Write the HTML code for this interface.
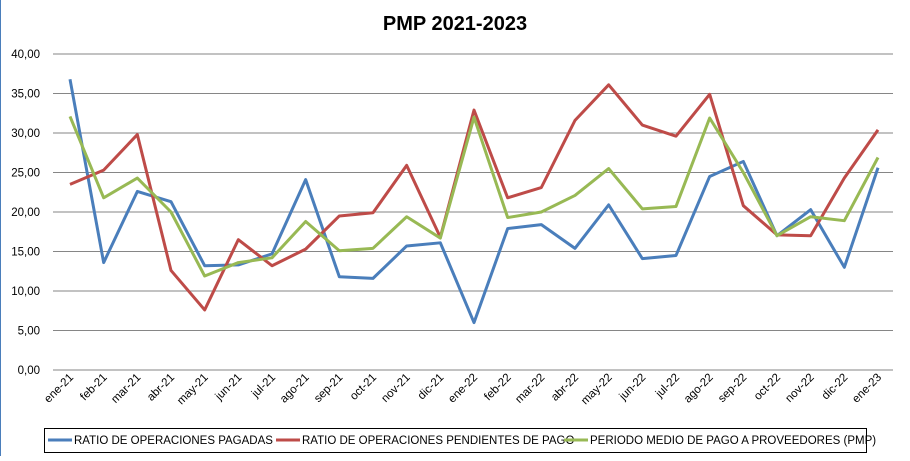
<!DOCTYPE html>
<html><head><meta charset="utf-8"><style>
body{margin:0;background:#fff;font-family:"Liberation Sans",sans-serif}
svg text{font-family:"Liberation Sans",sans-serif}
</style></head><body>
<svg width="910" height="456" viewBox="0 0 910 456">
<rect x="0" y="0" width="910" height="456" fill="#fff"/>
<line x1="0.5" y1="0" x2="0.5" y2="456" stroke="#4a7ebb" stroke-width="1"/>
<text x="455" y="30" text-anchor="middle" font-size="20" font-weight="bold">PMP 2021-2023</text>
<g id="grid"></g><g id="series"></g><g id="xlabels"></g>
<g>
<rect x="44.5" y="428.5" width="822" height="24" fill="#fff" stroke="#000"/>
<line x1="48" y1="440" x2="72" y2="440" stroke="#4a7ebb" stroke-width="3"/>
<text x="74" y="444" font-size="11.5">RATIO DE OPERACIONES PAGADAS</text>
<line x1="276" y1="440" x2="300" y2="440" stroke="#be4b48" stroke-width="3"/>
<text x="302" y="444" font-size="11.5">RATIO DE OPERACIONES PENDIENTES DE PAGO</text>
<line x1="564" y1="440" x2="588" y2="440" stroke="#98b954" stroke-width="3"/>
<text x="590" y="444" font-size="11.5">PERIODO MEDIO DE PAGO A PROVEEDORES (PMP)</text>
</g>
</svg>
<script>
const categories=["ene-21","feb-21","mar-21","abr-21","may-21","jun-21","jul-21","ago-21","sep-21","oct-21","nov-21","dic-21","ene-22","feb-22","mar-22","abr-22","may-22","jun-22","jul-22","ago-22","sep-22","oct-22","nov-22","dic-22","ene-23"];
const pagadas=[36.8,13.6,22.6,21.3,13.2,13.3,14.7,24.1,11.8,11.6,15.7,16.1,6.0,17.9,18.4,15.4,20.9,14.1,14.5,24.5,26.4,17.0,20.3,13.0,25.6];
const pendientes=[23.5,25.3,29.8,12.6,7.6,16.5,13.2,15.3,19.5,19.9,25.9,16.8,32.9,21.8,23.1,31.6,36.1,31.0,29.6,34.9,20.8,17.1,17.0,24.3,30.4];
const pmp=[32.1,21.8,24.3,20.0,11.9,13.6,14.2,18.8,15.1,15.4,19.4,16.7,32.0,19.3,20.0,22.1,25.5,20.4,20.7,31.9,25.0,17.0,19.4,18.9,26.9];
const yTicks=[0,5,10,15,20,25,30,35,40];
const NS="http://www.w3.org/2000/svg";
const x0=70,x1=878,yb=370,yt=54,ymax=40;
const xs=i=>x0+i*(x1-x0)/(categories.length-1);
const ys=v=>yb-v*(yb-yt)/ymax;
const grid=document.getElementById('grid');
yTicks.forEach(t=>{
  const l=document.createElementNS(NS,'line');
  
  
  l.setAttribute('x1',53);l.setAttribute('x2',893);
  l.setAttribute('y1',ys(t));l.setAttribute('y2',ys(t));
  l.setAttribute('stroke','#868686');l.setAttribute('stroke-width','1');
  grid.appendChild(l);
  const tx=document.createElementNS(NS,'text');
  
  
  tx.setAttribute('x',40);tx.setAttribute('y',ys(t)+4);
  tx.setAttribute('text-anchor','end');tx.setAttribute('font-size','11.5');
  tx.textContent=t.toFixed(2).replace('.',',');
  grid.appendChild(tx);
});
const xl=document.getElementById('xlabels');
categories.forEach((c,i)=>{
  const tx=document.createElementNS(NS,'text');
  
  
  const x=xs(i)+4,y=378;
  tx.setAttribute('x',x);tx.setAttribute('y',y);
  tx.setAttribute('text-anchor','end');tx.setAttribute('font-size','11.5');
  tx.setAttribute('transform','rotate(-45 '+x+' '+y+')');
  tx.textContent=c;
  xl.appendChild(tx);
});
const sg=document.getElementById('series');
[[pagadas,'#4a7ebb','line-pagadas'],[pendientes,'#be4b48','line-pendientes'],[pmp,'#98b954','line-pmp']].forEach(([d,col,n])=>{
  const p=document.createElementNS(NS,'polyline');
  
  
  p.setAttribute('points',d.map((v,i)=>xs(i)+','+ys(v)).join(' '));
  p.setAttribute('fill','none');p.setAttribute('stroke',col);
  p.setAttribute('stroke-width','3');p.setAttribute('stroke-linejoin','round');
  sg.appendChild(p);
});
</script>
</body></html>
